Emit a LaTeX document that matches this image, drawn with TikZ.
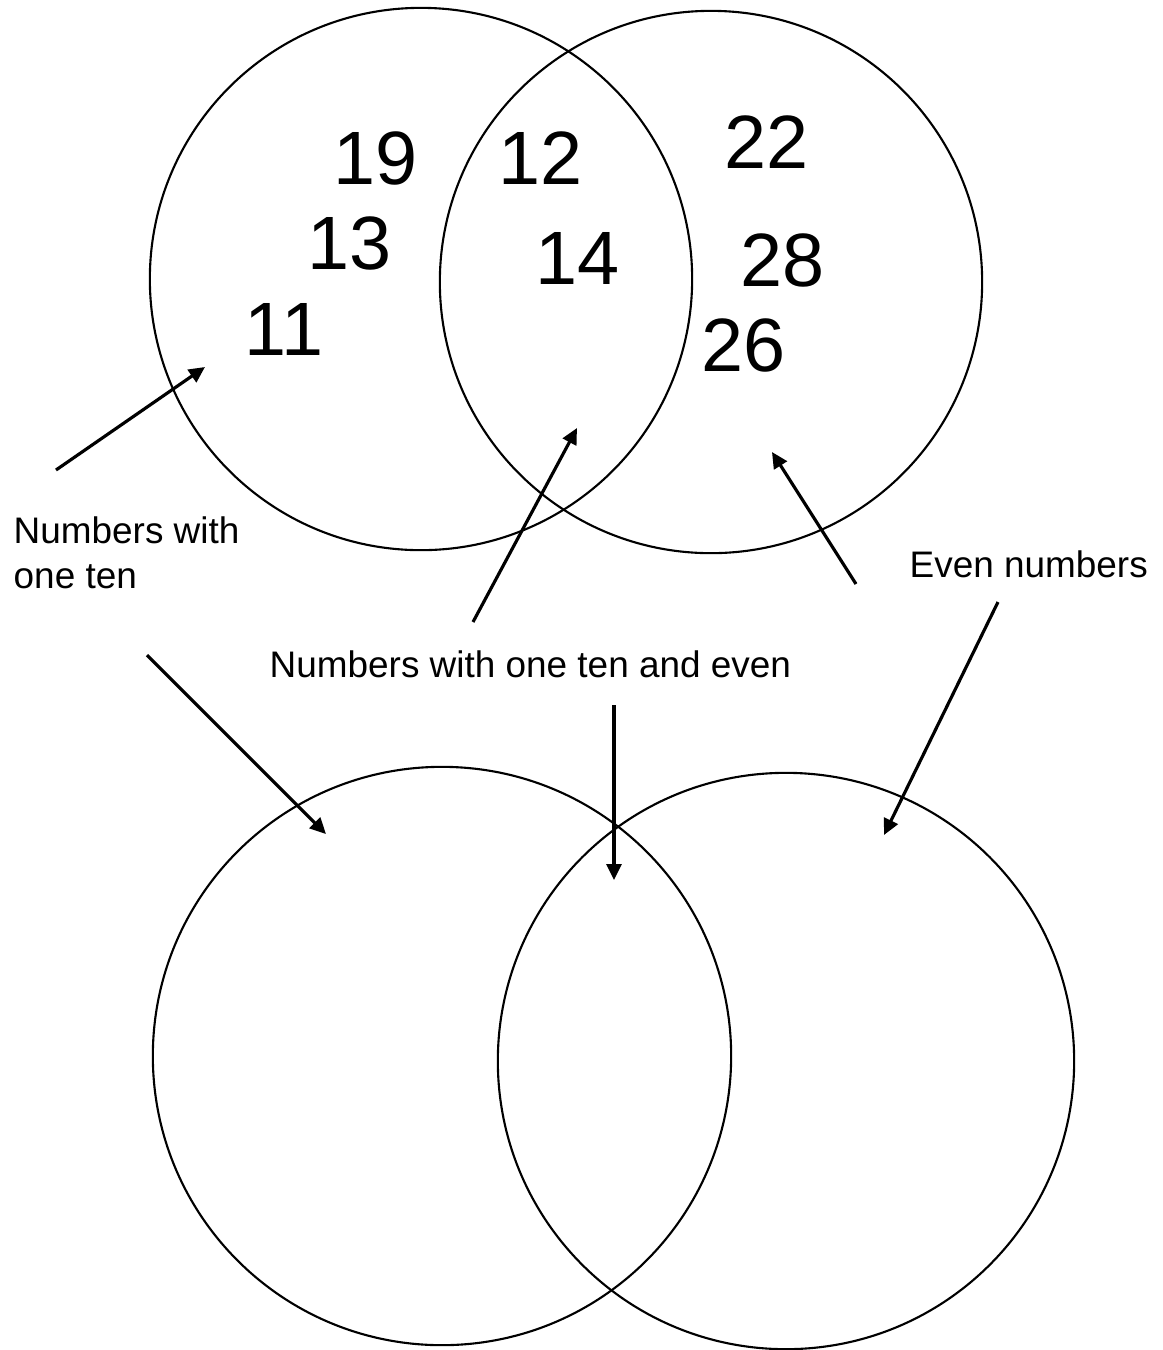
\documentclass[tikz,border=0pt]{standalone}
\usepackage{fontspec}
\setmainfont{Liberation Sans}
\usetikzlibrary{arrows.meta}
\tikzset{
  venn/.style={draw,circle,line width=0.6pt,inner sep=0pt},
  num/.style={inner sep=0pt,font=\fontsize{21.5}{26}\selectfont},
  lbl/.style={inner sep=0pt,font=\fontsize{10.5}{12.8}\selectfont},
  pointer/.style={line width=0.9pt,-{Triangle[length=0.16cm,width=0.15cm]}}
}
\begin{document}
\begin{tikzpicture}[x=0.01cm,y=-0.01cm]
    \useasboundingbox (0,0) rectangle (1163,1350);

    % filled-in diagram
    \path
    (421,279) node[venn,minimum size=5.42cm] (Ten) {}
    (711,282) node[venn,minimum size=5.42cm] (Even) {}
    ;
    \path
    (376,158) node[num] (n19) {19}
    (350,243) node[num] (n13) {13}
    (284,329) node[num] (n11) {11}
    (541,158) node[num] (n12) {12}
    (578,258) node[num] (n14) {14}
    (767,142) node[num] (n22) {22}
    (783,260) node[num] (n28) {28}
    (744,345) node[num] (n26) {26}
    ;

    % empty diagram
    \path
    (442,1056) node[venn,minimum size=5.78cm] (TenB) {}
    (786,1061) node[venn,minimum size=5.76cm] (EvenB) {}
    ;

    % labels
    \path
    (13,588) node[lbl,anchor=base west,align=left] (oneTen) {Numbers with\\one ten}
    (909,577) node[lbl,anchor=base west] (even) {Even numbers}
    (269,677) node[lbl,anchor=base west] (both) {Numbers with one ten and even}
    ;

    % pointers
    \coordinate (oneTenA) at (56,470);
    \coordinate (oneTenATip) at (205,367);
    \coordinate (bothA) at (473,622);
    \coordinate (bothATip) at (577,428);
    \coordinate (evenA) at (856,584);
    \coordinate (evenATip) at (772,452);
    \coordinate (oneTenB) at (147,655);
    \coordinate (oneTenBTip) at (326,834);
    \coordinate (bothB) at (614,705);
    \coordinate (bothBTip) at (614,880);
    \coordinate (evenB) at (998,602);
    \coordinate (evenBTip) at (884,835);

    \draw[pointer] (oneTenA) -- (oneTenATip);
    \draw[pointer] (bothA) -- (bothATip);
    \draw[pointer] (evenA) -- (evenATip);
    \draw[pointer] (oneTenB) -- (oneTenBTip);
    \draw[pointer] (bothB) -- (bothBTip);
    \draw[pointer] (evenB) -- (evenBTip);
\end{tikzpicture}
\end{document}
